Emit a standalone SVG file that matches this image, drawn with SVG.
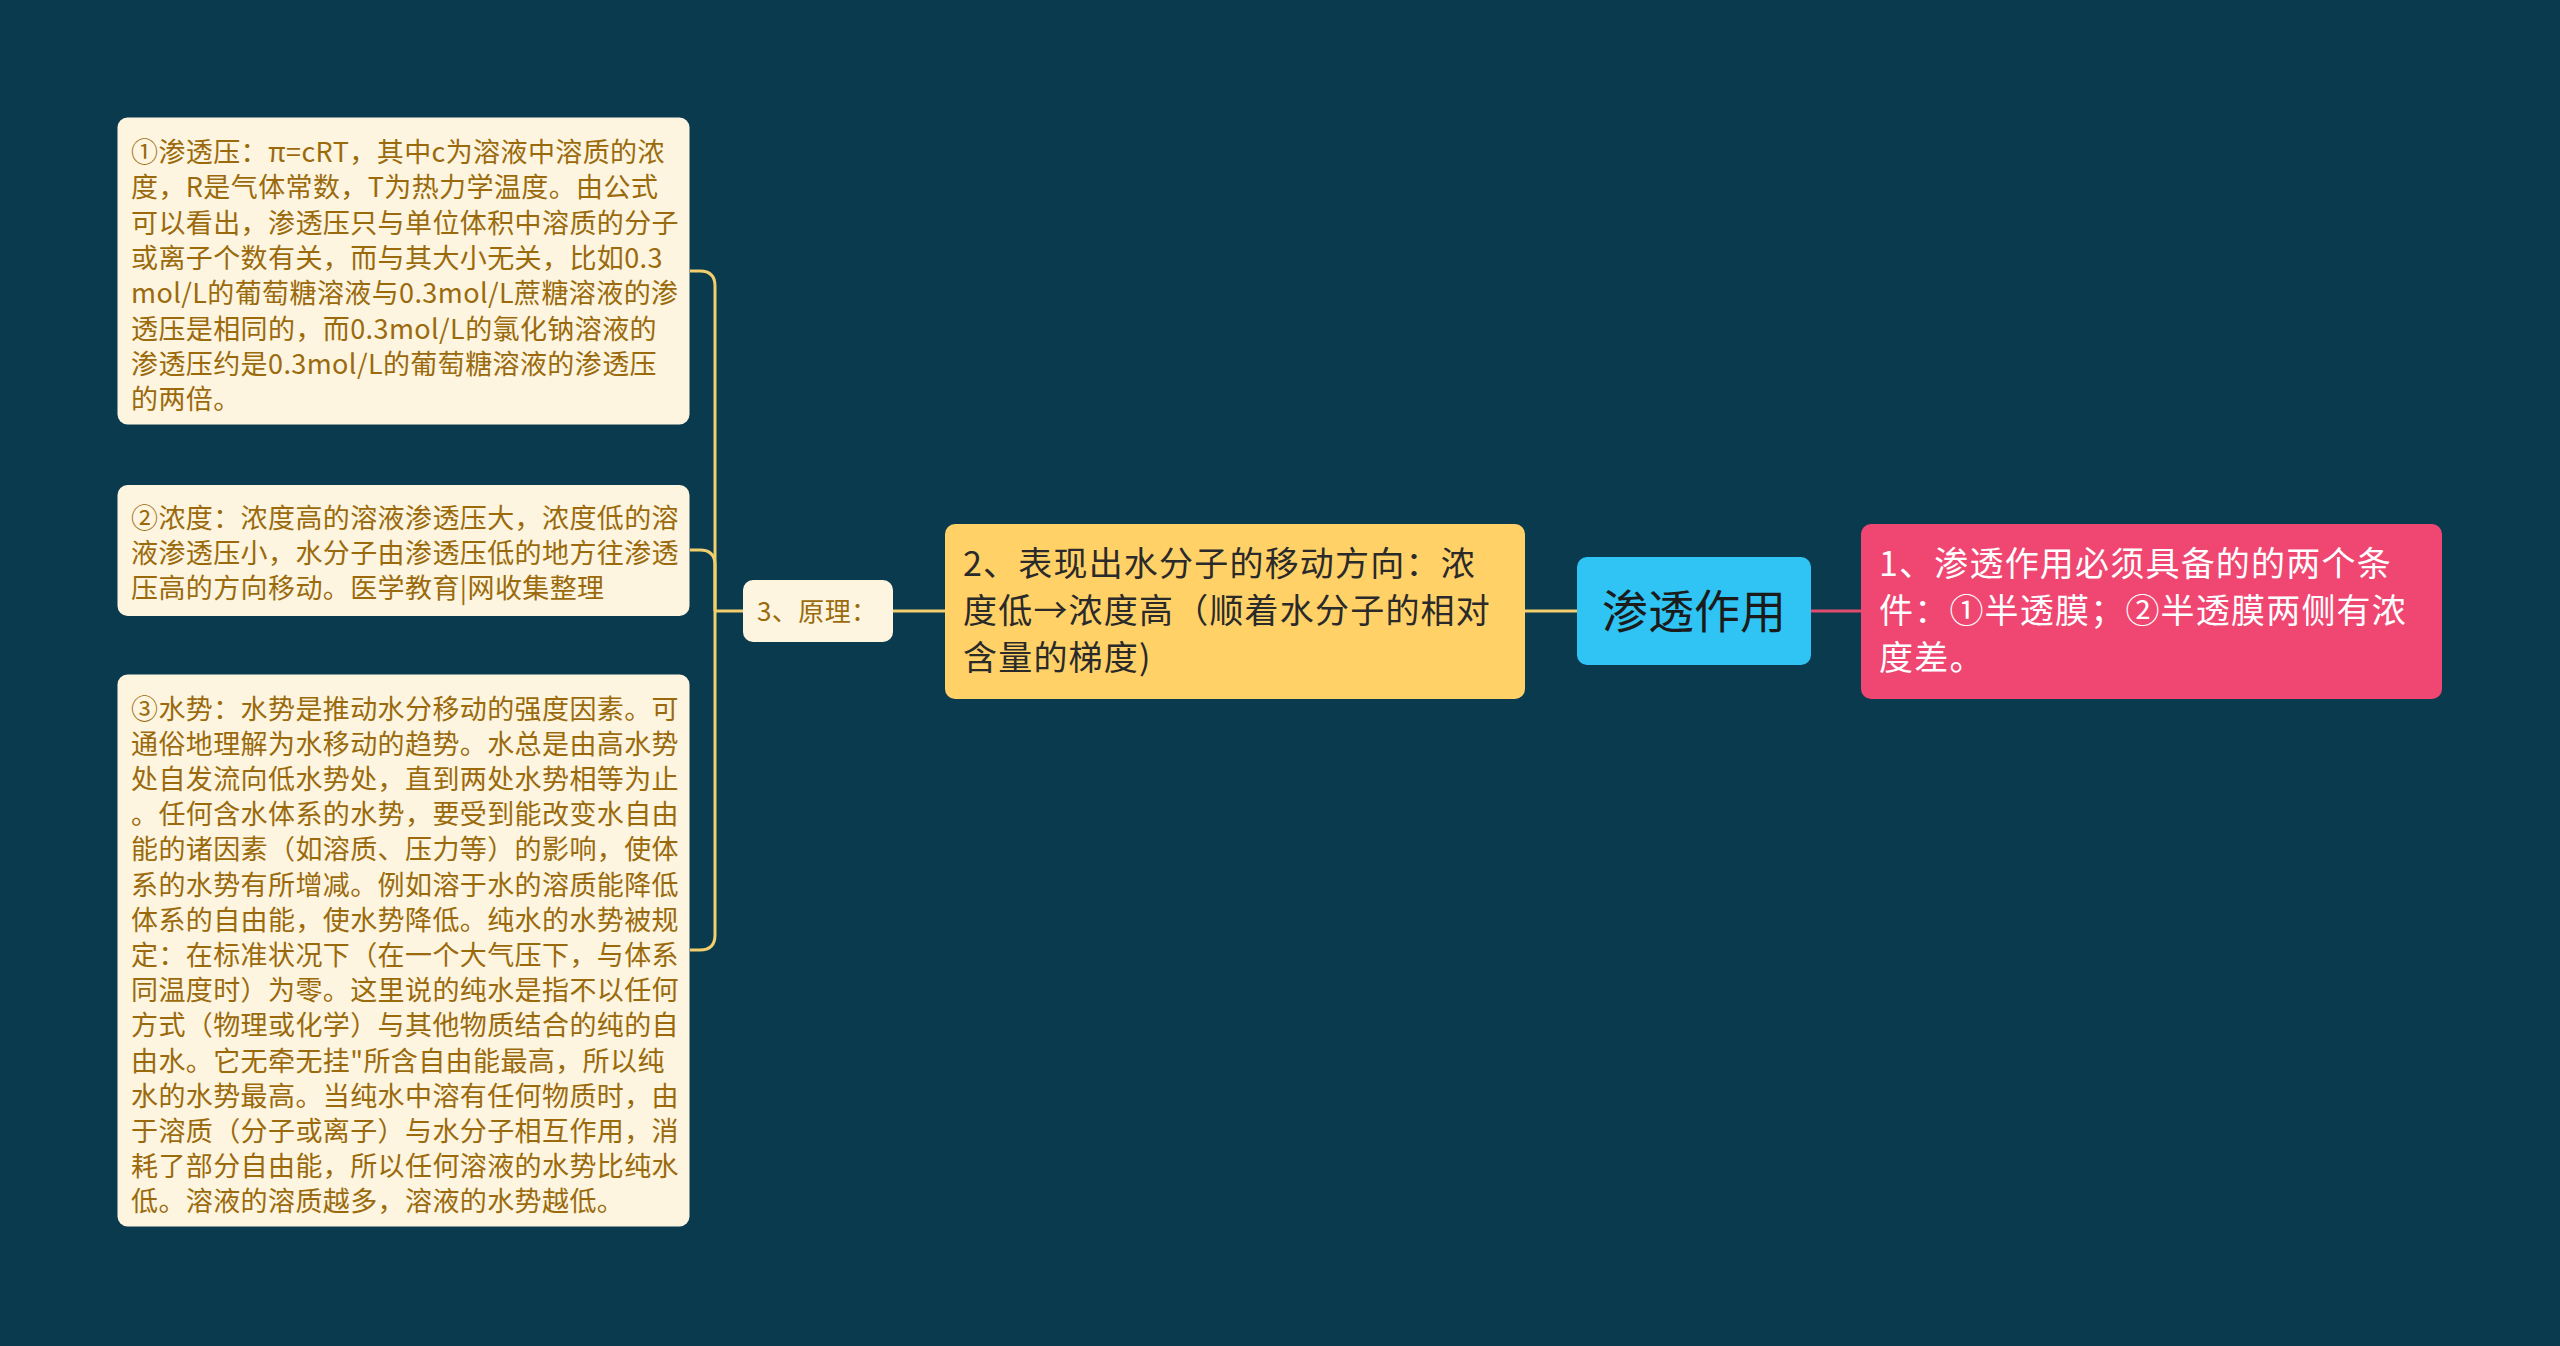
<svg xmlns="http://www.w3.org/2000/svg" width="2560" height="1346" viewBox="0 0 2560 1346">
<style>
text{font-family:"Noto Sans CJK SC","Noto Sans",sans-serif}
.leaf rect{fill:#FDF5DF}
.leaf text{fill:#9A6A0D;font-size:27px;letter-spacing:0.4px}
.conn path{fill:none;stroke:#F2CF6C;stroke-width:3}
.big{font-size:34px;letter-spacing:1.2px}
</style>
<rect width="2560" height="1346" fill="#0A3A4E"/>
<g class="conn">
<path d="M743,611H715"/>
<path d="M715,611V286Q715,271 700,271H690"/>
<path d="M715,611V565Q715,550 700,550H690"/>
<path d="M715,611V935Q715,950 700,950H690"/>
<path d="M893,611H945"/>
<path d="M1525,611H1577" stroke-width="4"/>
<path d="M1811,611H1861" style="stroke:#E04C6E"/>
</g>
<g id="n-root">
<rect x="1577" y="557" width="234" height="108" rx="10" fill="#2FC4F3"/>
<text x="1694" y="628" font-size="46" text-anchor="middle" fill="#1B1B1B">渗透作用</text>
</g>
<g id="n-cond">
<rect x="1861" y="524" width="581" height="175" rx="10" fill="#EF4772"/>
<text class="big" fill="#FFFFFF"><tspan x="1879" y="576">1、渗透作用必须具备的的两个条</tspan><tspan x="1879" y="623">件：①半透膜；②半透膜两侧有浓</tspan><tspan x="1879" y="670">度差。</tspan></text>
</g>
<g id="n-dir">
<rect x="945" y="524" width="580" height="175" rx="10" fill="#FFD167"/>
<text class="big" fill="#2A2A2A"><tspan x="963" y="576">2、表现出水分子的移动方向：浓</tspan><tspan x="963" y="623">度低→浓度高（顺着水分子的相对</tspan><tspan x="963" y="670">含量的梯度)</tspan></text>
</g>
<g id="n-principle" class="leaf">
<rect x="743" y="580" width="150" height="62" rx="10"/>
<text x="757" y="621" style="font-size:26px">3、原理：</text>
</g>
<g id="n-p1" class="leaf">
<rect x="117.5" y="117.5" width="572" height="307" rx="10"/>
<text><tspan x="131" y="162">①渗透压：π=cRT，其中c为溶液中溶质的浓</tspan><tspan x="131" y="197.3">度，R是气体常数，T为热力学温度。由公式</tspan><tspan x="131" y="232.6">可以看出，渗透压只与单位体积中溶质的分子</tspan><tspan x="131" y="267.9">或离子个数有关，而与其大小无关，比如0.3</tspan><tspan x="131" y="303.2">mol/L的葡萄糖溶液与0.3mol/L蔗糖溶液的渗</tspan><tspan x="131" y="338.5">透压是相同的，而0.3mol/L的氯化钠溶液的</tspan><tspan x="131" y="373.8">渗透压约是0.3mol/L的葡萄糖溶液的渗透压</tspan><tspan x="131" y="409.1">的两倍。</tspan></text>
</g>
<g id="n-p2" class="leaf">
<rect x="117.5" y="485" width="572" height="131" rx="10"/>
<text><tspan x="131" y="528">②浓度：浓度高的溶液渗透压大，浓度低的溶</tspan><tspan x="131" y="563.2">液渗透压小，水分子由渗透压低的地方往渗透</tspan><tspan x="131" y="598.4">压高的方向移动。医学教育|网收集整理</tspan></text>
</g>
<g id="n-p3" class="leaf">
<rect x="117.5" y="674.5" width="572" height="552" rx="10"/>
<text><tspan x="131" y="718.5">③水势：水势是推动水分移动的强度因素。可</tspan><tspan x="131" y="753.7">通俗地理解为水移动的趋势。水总是由高水势</tspan><tspan x="131" y="788.9">处自发流向低水势处，直到两处水势相等为止</tspan><tspan x="131" y="824.1">。任何含水体系的水势，要受到能改变水自由</tspan><tspan x="131" y="859.3">能的诸因素（如溶质、压力等）的影响，使体</tspan><tspan x="131" y="894.5">系的水势有所增减。例如溶于水的溶质能降低</tspan><tspan x="131" y="929.7">体系的自由能，使水势降低。纯水的水势被规</tspan><tspan x="131" y="964.9">定：在标准状况下（在一个大气压下，与体系</tspan><tspan x="131" y="1000.1">同温度时）为零。这里说的纯水是指不以任何</tspan><tspan x="131" y="1035.3">方式（物理或化学）与其他物质结合的纯的自</tspan><tspan x="131" y="1070.5">由水。它无牵无挂"所含自由能最高，所以纯</tspan><tspan x="131" y="1105.7">水的水势最高。当纯水中溶有任何物质时，由</tspan><tspan x="131" y="1140.9">于溶质（分子或离子）与水分子相互作用，消</tspan><tspan x="131" y="1176.1">耗了部分自由能，所以任何溶液的水势比纯水</tspan><tspan x="131" y="1211.3">低。溶液的溶质越多，溶液的水势越低。</tspan></text>
</g>
</svg>
